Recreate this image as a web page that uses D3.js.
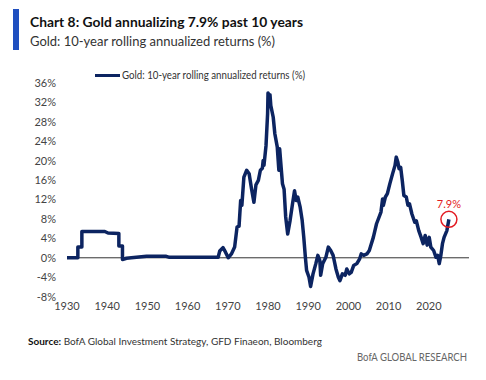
<!DOCTYPE html>
<html>
<head>
<meta charset="utf-8">
<script src="https://cdn.jsdelivr.net/npm/d3@7"></script>
<style>
  body { margin: 0; background: #fff; }
  text { font-family: Lato, "Open Sans", sans-serif; }
</style>
</head>
<body>
<div id="container"></div>
<script>
const w = 486;
const h = 380;

// year (decimal) and 10-year rolling annualized return (%)
const years = [
  1930, 1932.7, 1932.7, 1933.7, 1933.7, 1939.4, 1940.2, 1942.9, 1942.9, 1943.8, 1943.8, 1944.8,
  1946, 1949.8, 1954.7, 1955.5, 1967.6,
  1968.0, 1968.8, 1969.4, 1970.1, 1970.9, 1971.7, 1972.3, 1972.8, 1973.2, 1973.5, 1974.0, 1974.7,
  1975.3, 1975.9, 1976.5, 1977.0, 1977.6, 1978.1, 1978.6, 1978.8, 1979.0, 1979.5, 1979.9,
  1980.0, 1980.3, 1980.5, 1980.7, 1981.3, 1981.7, 1982.3, 1982.7, 1982.9, 1983.2, 1983.6, 1984.0, 1984.4,
  1984.9, 1985.5, 1986.1, 1986.6, 1987.0, 1987.4, 1988.0, 1988.5, 1988.9, 1989.3, 1989.6,
  1990.2, 1990.6, 1991.2, 1991.9, 1992.4, 1992.9, 1993.1, 1993.6, 1994.4, 1995.0, 1995.6, 1996.2,
  1996.9, 1997.5, 1997.9, 1998.5, 1999.2, 1999.6, 2000.2, 2000.7, 2001.3, 2002.1, 2002.8, 2003.2,
  2003.8, 2004.6, 2005.2, 2006.2, 2007.0, 2008.1, 2008.5, 2008.7, 2009.2, 2009.7, 2010.3,
  2011.0, 2011.6, 2011.9, 2012.3, 2012.6, 2013.0, 2013.4, 2013.8, 2014.4, 2014.8, 2015.2, 2015.8,
  2016.5, 2016.9, 2017.5, 2018.1, 2018.6, 2019.1, 2019.6, 2020.1, 2020.5, 2021.2, 2021.8, 2022.2,
  2022.6, 2023.0, 2023.4, 2023.8, 2024.5, 2025.0
];
const returns = [
  0, 0, 2.2, 2.2, 5.4, 5.4, 5.1, 5.0, 2.4, 2.4, -0.35, -0.1,
  0, 0.3, 0.3, 0.1, 0.1,
  1.4, 2.1, 1.2, 0, 0.8, 2.2, 6.3, 6.5, 11.8, 10.8, 16.6, 18.0,
  17.3, 14.2, 11.4, 15.0, 15.9, 18.0, 18.4, 20.0, 19.0, 23.0, 29.6,
  33.9, 33.2, 33.5, 31.3, 28.9, 25.5, 22.8, 18.0, 22.4, 19.3, 15.2, 14.1, 8.4,
  4.9, 7.7, 11.1, 13.8, 11.8, 12.5, 10.4, 7.7, 4.2, 0.1, -2.6,
  -4.0, -5.9, -3.3, -1.2, 0.5, -0.6, -3.6, -1.2, 0.1, 2.2, 1.5, 0.5,
  -2.3, -4.0, -4.7, -3.3, -3.6, -2.3, -3.3, -3.0, -1.6, -1.2, -0.2, 0.8,
  0.5, 0.8, 1.5, 4.2, 7.0, 9.4, 12.1, 10.8, 12.5, 13.2, 15.2,
  17.3, 19.0, 20.7, 19.7, 18.3, 18.6, 15.9, 12.8, 12.5, 10.8, 11.1, 9.0,
  7.3, 7.6, 5.6, 4.2, 2.9, 4.6, 2.6, 4.2, 2.2, 1.5, 0.1, 0.5,
  -1.2, 0.5, 2.9, 4.2, 5.6, 7.9
];

const yTicks = [-8, -4, 0, 4, 8, 12, 16, 20, 24, 28, 32, 36];
const xTicks = [1930, 1940, 1950, 1960, 1970, 1980, 1990, 2000, 2010, 2020];

const seriesName = "Gold: 10-year rolling annualized returns (%)";
const latestLabel = "7.9%";

const data = years.map((y, i) => ({ year: y, value: returns[i] }));

const svg = d3.select("#container")
              .append("svg")
              .attr("width", w)
              .attr("height", h)
              .style("background", "#fff");

const x = d3.scaleLinear().domain([1930, 2030]).range([67, 469]);
const y = d3.scaleLinear().domain([-8, 36]).range([296.7, 82.7]);

// header
svg.append("rect")
   .attr("x", 13).attr("y", 9)
   .attr("width", 6).attr("height", 41)
   .attr("fill", "#1f4fbf");

svg.append("text")
   .attr("x", 30).attr("y", 27)
   .attr("textLength", 273)
   .attr("lengthAdjust", "spacingAndGlyphs")
   .style("font-size", "14px")
   .style("font-weight", "bold")
   .attr("fill", "#111")
   .text("Chart 8: Gold annualizing 7.9% past 10 years");

svg.append("text")
   .attr("x", 30).attr("y", 46)
   .attr("textLength", 245)
   .attr("lengthAdjust", "spacingAndGlyphs")
   .style("font-size", "14px")
   .attr("fill", "#333")
   .text("Gold: 10-year rolling annualized returns (%)");

// legend
svg.append("line")
   .attr("x1", 95).attr("x2", 120)
   .attr("y1", 75.5).attr("y2", 75.5)
   .attr("stroke", "#0c2461")
   .attr("stroke-width", 3);

svg.append("text")
   .attr("x", 122).attr("y", 79)
   .attr("textLength", 183)
   .attr("lengthAdjust", "spacingAndGlyphs")
   .style("font-size", "10.5px")
   .attr("fill", "#333")
   .text(seriesName);

// y tick labels
svg.append("g")
   .selectAll("text")
   .data(yTicks)
   .enter()
   .append("text")
   .attr("x", 56)
   .attr("y", d => y(d) + 4)
   .attr("text-anchor", "end")
   .style("font-size", "11px")
   .attr("fill", "#444")
   .text(d => d + "%");

// x tick labels
svg.append("g")
   .selectAll("text")
   .data(xTicks)
   .enter()
   .append("text")
   .attr("x", d => x(d))
   .attr("y", 310)
   .attr("text-anchor", "middle")
   .style("font-size", "11px")
   .attr("fill", "#444")
   .text(d => d);

// zero line
svg.append("line")
   .attr("x1", x(1930)).attr("x2", x(2030))
   .attr("y1", y(0)).attr("y2", y(0))
   .attr("stroke", "#333")
   .attr("stroke-width", 1);

// series
const line = d3.line()
               .x(d => x(d.year))
               .y(d => y(d.value));

svg.append("path")
   .datum(data)
   .attr("d", line)
   .attr("fill", "none")
   .attr("stroke", "#0c2461")
   .attr("stroke-width", 3.5)
   .attr("stroke-linejoin", "round");

// latest value marker
const last = data[data.length - 1];

svg.append("circle")
   .attr("cx", x(last.year))
   .attr("cy", y(last.value))
   .attr("r", 8)
   .attr("fill", "none")
   .attr("stroke", "#e31b23")
   .attr("stroke-width", 1.5);

svg.append("text")
   .attr("x", x(last.year))
   .attr("y", y(last.value) - 11)
   .attr("text-anchor", "middle")
   .style("font-size", "11px")
   .attr("fill", "#e31b23")
   .text(latestLabel);

// footer
const source = svg.append("text")
                  .attr("x", 28).attr("y", 345)
                  .style("font-size", "10px")
                  .attr("fill", "#333");
source.append("tspan")
      .style("font-weight", "bold")
      .attr("fill", "#111")
      .text("Source:");
source.append("tspan")
      .text(" BofA Global Investment Strategy, GFD Finaeon, Bloomberg");

svg.append("text")
   .attr("x", 357).attr("y", 361)
   .attr("textLength", 110)
   .attr("lengthAdjust", "spacingAndGlyphs")
   .style("font-size", "11px")
   .attr("fill", "#666")
   .text("BofA GLOBAL RESEARCH");
</script>
</body>
</html>
